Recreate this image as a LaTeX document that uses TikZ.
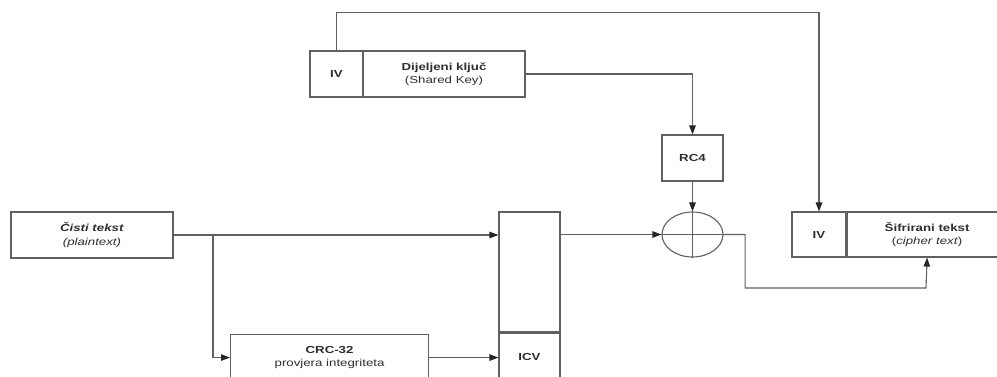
\documentclass[tikz,border=0pt]{standalone}
\usepackage{fontspec}
\setmainfont[FakeStretch=1.3, BoldFeatures={FakeStretch=1.3}, ItalicFeatures={FakeStretch=1.3}, BoldItalicFeatures={FakeStretch=1.3}]{Liberation Sans}
\usetikzlibrary{arrows.meta,shapes.geometric}
\definecolor{ln}{HTML}{606060}
\definecolor{tx}{HTML}{2E2E2E}
\begin{document}
\begin{tikzpicture}[x=1pt,y=-1pt,
  box/.style={draw=ln, line width=1.1pt, rectangle, inner sep=0pt, text=tx,
    font=\fontsize{10.2}{13.5}\selectfont, align=center},
  conn/.style={draw=ln, line width=1.1pt},
  arr/.style={conn, -{Triangle[length=9pt,width=6.5pt,color=black!85]}}]
\useasboundingbox (0,0) rectangle (997,376);
\clip (0,0) rectangle (997,376);
% top-left key block
\node[box, minimum width=53pt, minimum height=46pt] (ivA) at (336.5,74) {\textbf{IV}};
\node[box, minimum width=162pt, minimum height=46pt] (key) at (444,74) {\textbf{Dijeljeni ključ}\\(Shared Key)};
% RC4 and XOR
\node[box, minimum width=61pt, minimum height=46pt] (rc4) at (692.5,158) {\textbf{RC4}};
\node[draw=ln, line width=1.1pt, ellipse, minimum width=61pt, minimum height=45pt, inner sep=0pt] (xor) at (692.5,234.5) {};
\draw[conn] (xor.north) -- (xor.south);
\draw[conn] (xor.west) -- (xor.east);
% plaintext
\node[box, minimum width=162pt, minimum height=46pt] (plain) at (92,235) {\textbf{\textit{Čisti tekst}}\\\textit{(plaintext)}};
% concatenation box
\node[box, minimum width=61pt, minimum height=120pt] (cat) at (529.5,272) {};
\node[box, minimum width=61pt, minimum height=48pt, anchor=north] (icv) at (cat.south) {\textbf{ICV}};
% CRC
\node[box, minimum width=198pt, minimum height=46pt, anchor=north west] (crc) at (230,334) {\textbf{CRC-32}\\provjera integriteta};
% cipher text
\node[box, minimum width=54pt, minimum height=45pt] (ivB) at (819,234.5) {\textbf{IV}};
\node[box, minimum width=160pt, minimum height=45pt, anchor=west] (ct) at (ivB.east) {\textbf{Šifrirani tekst}\\(\textit{cipher text})};
% connectors
\coordinate (j1) at (213,235);
\coordinate (low) at (926,288);
\draw[arr] (plain.east) -- (plain.east -| cat.west);
\draw[arr] (j1) |- (crc.west);
\draw[arr] (crc.east) -- (crc.east -| icv.west);
\draw[arr] (xor.west -| cat.east) -- (xor.west);
\draw[arr] (rc4.south) -- (xor.north);
\draw[arr] (key.east) -| (rc4.north);
\draw[arr] (ivA.north) -- ++(0,-38) -| (ivB.north);
\draw[arr] (xor.east) -- ++(21.5,0) |- (low) -- (ct.south);
\end{tikzpicture}
\end{document}
